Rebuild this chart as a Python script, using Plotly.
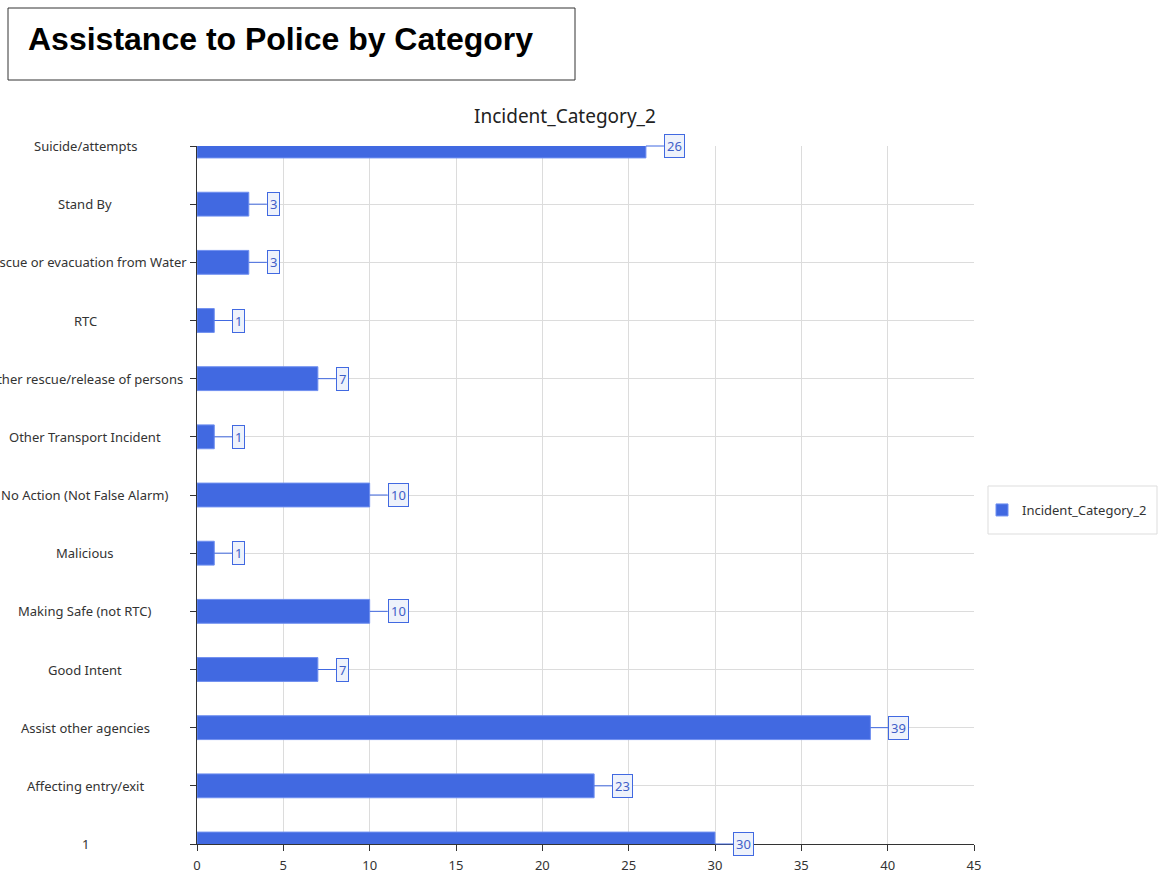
import plotly.graph_objects as go

# categories from bottom to top, as in the reference
categorias = [
    "1",
    "Affecting entry/exit",
    "Assist other agencies",
    "Good Intent",
    "Making Safe (not RTC)",
    "Malicious",
    "No Action (Not False Alarm)",
    "Other Transport Incident",
    "Other rescue/release of persons",
    "RTC",
    "Rescue or evacuation from Water",
    "Stand By",
    "Suicide/attempts",
]
valores = [30, 23, 39, 7, 10, 1, 10, 1, 7, 1, 3, 3, 26]
x_ticks = [0, 5, 10, 15, 20, 25, 30, 35, 40, 45]

serie = "Incident_Category_2"
azul = "#4169E1"
fuente = "Noto Sans"

# plot area in page pixels (body margin is removed below, so page = figure)
L, R, T, B = 197, 974, 146, 844
W, H = 1161, 874


def px_x(p):
    return (p - L) / (R - L)


def px_y(p):
    return (B - p) / (B - T)


fig = go.Figure()

fig.add_trace(go.Bar(
    x=valores,
    y=categorias,
    orientation="h",
    name=serie,
    width=0.41,
    marker=dict(color=azul, line=dict(color="#6f8ff0", width=1)),
))

# etiquetas de datos con recuadro y linea (y por indice: "1" es una categoria)
for i, v in enumerate(valores):
    fig.add_annotation(
        x=v, y=i, xref="x", yref="y",
        text=str(v),
        showarrow=True, arrowhead=0, arrowwidth=1, arrowcolor=azul,
        ax=18, ay=0, xanchor="left",
        bordercolor=azul, borderwidth=1, borderpad=2,
        bgcolor="#eef2fb",
        font=dict(family=fuente, size=13, color="#3f5fc8"),
    )

# etiquetas del eje y centradas, como en el original
for i, cat in enumerate(categorias):
    fig.add_annotation(
        x=px_x(85), y=i, xref="paper", yref="y",
        text=cat, showarrow=False, xanchor="center",
        font=dict(family=fuente, size=13, color="#333"),
    )

# titulo del grafico
fig.add_annotation(
    x=px_x(565), y=px_y(116), xref="paper", yref="paper",
    text=serie, showarrow=False, xanchor="center", yanchor="middle",
    font=dict(family=fuente, size=19, color="#222"),
)

# cuadro del titulo principal
fig.add_shape(
    type="rect", xref="paper", yref="paper",
    x0=px_x(8), x1=px_x(575), y0=px_y(80), y1=px_y(8),
    line=dict(color="#333", width=1), fillcolor="white",
)
fig.add_annotation(
    x=px_x(26), y=px_y(39), xref="paper", yref="paper",
    text="<b>Assistance to Police by Category</b>", showarrow=False,
    xanchor="left", yanchor="middle",
    font=dict(family="Liberation Sans", size=32, color="black"),
)

# recuadro de la leyenda
fig.add_shape(
    type="rect", xref="paper", yref="paper",
    x0=px_x(988), x1=px_x(1157), y0=px_y(534), y1=px_y(486),
    line=dict(color="#dddddd", width=1),
)

fig.update_layout(
    width=W, height=H,
    margin=dict(l=L, r=W - R, t=T, b=H - B, autoexpand=False),
    plot_bgcolor="white",
    paper_bgcolor="white",
    showlegend=True,
    legend=dict(
        x=px_x(982), y=px_y(510), xanchor="left", yanchor="middle",
        itemwidth=30,
        font=dict(family=fuente, size=13, color="#333"),
        bgcolor="rgba(0,0,0,0)", borderwidth=0,
    ),
    xaxis=dict(
        range=[0, 45], tickvals=x_ticks,
        showgrid=True, gridcolor="#dcdcdc", gridwidth=1,
        showline=True, linecolor="#333", linewidth=1,
        ticks="outside", ticklen=6, tickcolor="#333", ticklabelstandoff=3,
        tickfont=dict(family=fuente, size=13, color="#333"),
        zeroline=False, fixedrange=True,
    ),
    yaxis=dict(
        type="category", categoryorder="array", categoryarray=categorias,
        range=[0, len(categorias) - 1],
        showgrid=True, gridcolor="#dcdcdc", gridwidth=1,
        showline=True, linecolor="#333", linewidth=1,
        ticks="outside", ticklen=6, tickcolor="#333",
        showticklabels=False, zeroline=False, fixedrange=True,
    ),
)

fig.write_html(
    "out.html",
    config={"displayModeBar": False},
    post_script="document.body.style.margin='0';",
)
